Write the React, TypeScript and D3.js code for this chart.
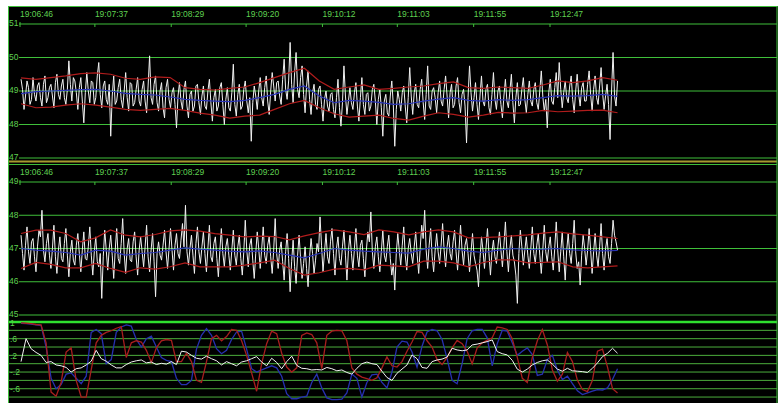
import React from "react";
import * as d3 from "d3";

// ---------- data ----------
const TIME_LABELS = ["19:06:46", "19:07:37", "19:08:29", "19:09:20", "19:10:12", "19:11:03", "19:11:55", "19:12:47"];
const T_FIRST = 0.7; // seconds after 19:06:46 of first sample
const T_LAST = 407; // seconds after 19:06:46 of last sample

const P1_TICKS = [51, 50, 49, 48, 47];
const P2_TICKS = [49, 48, 47, 46, 45];
const P3_GRID = [0.8, 0.6, 0.4, 0.2, 0, -0.2, -0.4, -0.6, -0.8];
const P3_LABELS = [1, 0.6, 0.2, -0.2, -0.6];

const P1_WHITE = [
  49.35, 49.05, 48.45, 48.85, 49.3, 49.1, 48.6, 48.75, 49.4, 48.9, 48.7, 49.15, 49.25, 48.8, 48.55, 49.2, 49.45, 48.65, 48.8, 49.1,
  49.2, 48.85, 48.5, 49.25, 49.5, 48.9, 48.75, 49.15, 49.35, 48.8, 48.6, 49.05, 49.9, 49.2, 48.7, 49.4, 49.3, 48.95, 48.45, 49.1,
  49.4, 48.7, 48.05, 48.95, 49.55, 49.0, 48.65, 49.3, 49.25, 48.6, 48.8, 49.45, 49.85, 48.9, 48.5, 49.15, 49.3, 48.75, 48.6, 49.2,
  47.65, 48.85, 49.45, 48.6, 48.7, 49.1, 49.35, 48.75, 48.5, 49.0, 49.55, 48.8, 48.4, 49.25, 49.2, 48.55, 48.65, 49.05, 49.4, 48.7,
  48.55, 49.05, 49.3, 48.7, 48.35, 49.15, 50.05, 48.8, 48.6, 49.2, 49.45, 48.65, 48.4, 49.0, 49.25, 48.5, 48.2, 49.1, 49.35, 48.75,
  48.5, 48.95, 49.1, 48.6, 47.9, 48.85, 49.25, 48.7, 48.45, 49.05, 49.3, 48.55, 48.2, 48.9, 49.0, 48.4, 48.55, 49.15, 49.2, 48.65,
  48.3, 48.85, 49.15, 48.55, 48.45, 49.0, 49.35, 48.65, 48.1, 48.8, 49.05, 48.4, 48.55, 49.1, 49.25, 48.6, 48.0, 48.75, 49.1, 48.5,
  48.4, 48.95, 49.8, 48.6, 48.25, 48.9, 49.2, 48.45, 48.55, 49.05, 49.3, 48.7, 48.35, 48.8, 47.5, 48.65, 49.15, 48.85, 48.45, 49.0,
  49.4, 48.8, 48.55, 49.1, 49.45, 48.7, 48.3, 49.0, 49.55, 49.15, 48.7, 49.25, 49.3, 48.85, 48.6, 49.35, 49.95, 49.05, 48.75, 49.3,
  50.45, 49.2, 48.65, 49.55, 50.15, 49.05, 48.8, 49.4, 49.75, 48.9, 48.35, 49.15, 49.6, 48.75, 48.3, 48.95, 49.2, 48.6, 48.45, 49.05,
  49.15, 48.6, 48.1, 48.75, 49.0, 48.55, 48.4, 48.9, 48.95, 48.45, 48.2, 48.8, 49.35, 48.5, 47.95, 48.65, 49.75, 48.85, 48.3, 48.7,
  49.1, 48.65, 48.45, 48.95, 49.25, 48.55, 48.1, 48.8, 49.4, 48.6, 48.3, 48.9, 48.95, 48.4, 48.55, 49.05, 49.2, 48.7, 48.0, 48.75,
  49.05, 48.5, 47.65, 48.7, 48.9, 48.35, 48.25, 48.85, 49.3, 48.6, 47.35, 48.45, 49.0, 48.75, 48.4, 48.95, 49.15, 48.55, 48.05, 48.8,
  49.7, 48.85, 48.3, 48.95, 49.2, 48.6, 48.5, 49.05, 49.35, 48.65, 48.15, 48.9, 49.75, 48.55, 48.45, 49.0, 49.1, 48.8, 48.35, 48.95,
  49.3, 48.7, 48.55, 49.05, 49.45, 48.85, 48.2, 48.95, 49.2, 48.5, 48.6, 49.15, 49.4, 48.65, 48.35, 48.9, 49.05, 48.55, 47.45, 48.8,
  49.75, 48.95, 48.4, 48.8, 49.25, 48.6, 48.15, 48.85, 49.45, 48.7, 48.55, 49.05, 49.2, 48.5, 48.3, 48.9, 49.55, 48.75, 48.45, 49.0,
  49.15, 48.6, 48.2, 48.85, 49.35, 48.7, 48.5, 49.0, 49.5, 48.65, 48.05, 48.8, 49.25, 48.55, 48.6, 49.05, 49.4, 48.75, 48.35, 48.9,
  49.3, 48.7, 48.55, 49.05, 49.25, 48.65, 48.45, 49.0, 49.6, 48.85, 48.4, 48.75, 47.9, 48.95, 49.35, 48.7, 48.6, 49.1, 49.55, 48.8,
  49.85, 49.05, 48.5, 48.95, 49.3, 48.8, 48.65, 49.15, 49.45, 48.75, 48.35, 49.0, 49.5, 48.9, 48.55, 49.1, 49.25, 48.7, 48.7, 49.2,
  49.6, 48.9, 48.4, 49.05, 49.45, 48.8, 48.6, 49.15, 49.7, 48.95, 48.45, 48.85, 49.2, 48.6, 47.55, 49.0, 50.15, 48.85, 48.55, 49.3,
];
const P1_MEAN = [
  48.92, 48.98, 49.0, 49.02, 49.04, 49.05, 49.0, 48.93, 48.9, 48.88, 48.82, 48.75, 48.72, 48.7,
  48.68, 48.72, 48.8, 48.9, 49.05, 49.15, 48.85, 48.65, 48.72, 48.7, 48.66, 48.6, 48.62, 48.7,
  48.76, 48.8, 48.72, 48.7, 48.74, 48.72, 48.74, 48.8, 48.86, 48.85, 48.86, 48.9, 48.84,
];
const P1_UPPER = [
  49.39, 49.35, 49.4, 49.45, 49.52, 49.54, 49.5, 49.38, 49.35, 49.42, 49.4, 49.1, 49.05, 49.03,
  49.08, 49.12, 49.25, 49.4, 49.55, 49.68, 49.3, 49.05, 49.12, 49.18, 49.05, 49.08, 49.12, 49.15,
  49.22, 49.27, 49.1, 49.08, 49.12, 49.1, 49.08, 49.18, 49.3, 49.25, 49.3, 49.4, 49.32,
];
const P1_LOWER = [
  48.62, 48.5, 48.52, 48.58, 48.62, 48.58, 48.52, 48.45, 48.42, 48.45, 48.48, 48.42, 48.34, 48.28,
  48.19, 48.25, 48.28, 48.45, 48.62, 48.72, 48.5, 48.32, 48.22, 48.25, 48.28, 48.18, 48.13, 48.25,
  48.35, 48.3, 48.22, 48.28, 48.36, 48.34, 48.35, 48.42, 48.38, 48.4, 48.42, 48.43, 48.35,
];

const P2_WHITE = [
  47.4, 46.85, 46.35, 47.1, 47.65, 46.9, 46.55, 47.2, 47.3, 46.75, 46.3, 47.05, 47.55, 47.35, 48.15, 46.95, 46.6, 47.15, 47.45, 46.8,
  46.4, 47.0, 47.7, 46.75, 46.25, 46.95, 47.35, 46.7, 46.6, 47.15, 47.6, 46.8, 46.15, 46.9, 47.25, 46.65, 46.5, 47.1, 47.45, 46.85,
  46.3, 46.95, 47.5, 46.7, 46.65, 47.05, 47.65, 46.8, 46.2, 46.9, 47.35, 46.6, 46.45, 46.85, 45.5, 46.75, 47.55, 46.95, 46.35, 47.0,
  47.4, 46.8, 46.1, 46.95, 47.6, 46.7, 46.55, 47.15, 47.9, 46.85, 46.25, 47.0, 47.3, 46.65, 46.6, 47.2, 47.5, 46.75, 46.2, 46.95,
  47.35, 46.9, 46.45, 47.05, 47.7, 46.75, 46.3, 46.95, 47.45, 46.6, 45.55, 46.85, 47.2, 46.8, 46.65, 47.1, 47.55, 46.9, 46.4, 47.0,
  47.6, 46.95, 46.35, 47.1, 47.45, 46.85, 46.7, 47.25, 47.75, 47.05, 48.3, 46.9, 46.5, 47.0, 47.4, 46.8, 46.25, 47.15, 47.65, 46.9,
  46.55, 47.05, 47.5, 46.85, 46.3, 47.0, 47.7, 46.75, 46.6, 47.15, 47.35, 46.7, 46.15, 46.95, 47.6, 46.85, 46.45, 47.05, 47.3, 46.8,
  46.35, 46.95, 47.55, 46.8, 46.5, 47.05, 47.4, 46.7, 46.2, 46.9, 47.85, 46.95, 46.45, 47.1, 47.3, 46.65, 46.1, 46.85, 47.5, 47.0,
  46.4, 47.0, 47.65, 46.8, 46.55, 47.1, 47.35, 46.75, 46.25, 46.95, 47.9, 46.85, 46.4, 46.95, 47.2, 46.6, 46.05, 46.9, 47.45, 46.7,
  45.7, 46.6, 47.25, 46.45, 45.95, 46.8, 47.4, 46.7, 46.1, 46.55, 47.05, 46.4, 45.85, 46.75, 47.3, 46.85, 46.25, 46.65, 47.15, 46.9,
  47.95, 47.1, 46.3, 46.9, 47.45, 46.75, 46.55, 47.2, 47.6, 46.85, 46.2, 47.0, 47.35, 46.7, 46.5, 47.05, 47.55, 46.8, 46.05, 46.95,
  47.4, 46.85, 46.35, 47.0, 47.6, 46.8, 46.45, 47.1, 47.25, 46.7, 46.15, 46.95, 47.5, 47.2, 48.1, 46.9, 46.4, 47.05, 47.35, 46.75,
  46.3, 46.9, 47.55, 46.8, 46.6, 47.05, 47.4, 46.7, 46.2, 46.55, 45.75, 46.85, 47.45, 46.95, 46.5, 47.1, 47.65, 46.8, 46.35, 47.0,
  47.3, 46.85, 46.55, 47.05, 47.5, 46.8, 46.25, 47.0, 47.7, 47.3, 48.15, 46.95, 46.4, 47.1, 47.6, 46.75, 46.3, 46.95, 47.45, 46.9,
  46.55, 47.1, 47.75, 46.95, 46.45, 47.05, 47.4, 46.85, 46.65, 47.2, 47.55, 46.9, 46.35, 47.0, 47.7, 46.95, 46.5, 47.1, 47.3, 46.85,
  46.3, 46.9, 47.45, 46.8, 46.55, 46.35, 45.85, 46.7, 47.35, 46.95, 46.4, 47.0, 47.6, 46.85, 46.2, 46.9, 47.25, 46.75, 46.55, 47.05,
  47.5, 46.95, 46.45, 47.1, 47.8, 46.9, 46.3, 47.0, 47.4, 46.8, 46.6, 46.2, 45.35, 46.85, 47.55, 47.05, 46.5, 46.95, 47.35, 46.8,
  46.4, 47.0, 47.65, 46.85, 46.55, 47.1, 47.45, 46.8, 46.25, 46.95, 47.7, 46.9, 46.6, 47.05, 47.35, 46.75, 46.35, 47.0, 47.8, 46.95,
  46.3, 46.9, 47.5, 46.75, 46.05, 46.95, 47.45, 46.85, 46.55, 47.15, 47.85, 46.9, 46.4, 46.6, 45.9, 46.8, 47.4, 47.0, 46.5, 46.95,
  47.6, 46.95, 46.25, 46.9, 47.45, 46.8, 46.45, 47.05, 47.75, 46.85, 46.35, 47.0, 47.3, 46.75, 46.55, 47.15, 47.85, 47.4, 47.2, 46.95,
];
const P2_MEAN = [
  47.0, 46.95, 46.92, 46.88, 46.8, 46.95, 46.92, 46.8, 46.85, 46.88, 46.95, 47.02, 46.98, 46.95,
  46.92, 46.9, 46.93, 46.88, 46.8, 46.72, 46.85, 47.0, 46.95, 46.92, 46.9, 46.88, 46.86, 46.98,
  47.05, 47.0, 46.92, 46.88, 46.95, 47.0, 46.97, 46.98, 47.0, 46.96, 46.94, 46.93, 46.94,
];
const P2_UPPER = [
  47.45, 47.55, 47.55, 47.45, 47.2, 47.32, 47.56, 47.4, 47.35, 47.42, 47.53, 47.56, 47.52, 47.45,
  47.4, 47.35, 47.37, 47.36, 47.26, 47.38, 47.48, 47.56, 47.5, 47.42, 47.56, 47.5, 47.41, 47.5,
  47.56, 47.5, 47.32, 47.33, 47.35, 47.38, 47.41, 47.46, 47.5, 47.44, 47.4, 47.35, 47.3,
];
const P2_LOWER = [
  46.4, 46.58, 46.52, 46.42, 46.42, 46.55, 46.4, 46.28, 46.42, 46.38, 46.45, 46.57, 46.45, 46.45,
  46.45, 46.5, 46.57, 46.65, 46.4, 46.2, 46.27, 46.38, 46.4, 46.36, 46.5, 46.48, 46.45, 46.62,
  46.62, 46.57, 46.45, 46.58, 46.66, 46.66, 46.57, 46.58, 46.6, 46.45, 46.42, 46.45, 46.48,
];

const P3_RED = [
  0.98, 0.97, 0.96, 0.94, 0.93, 0.5, -0.68, -0.78, -0.45, 0.28,
  0.38, -0.4, -0.8, -0.8, -0.15, 0.5, 0.68, 0.75, 0.79, 0.85,
  0.89, 0.15, 0.5, 0.55, 0.52, 0.32, 0.03, 0.38, 0.55, 0.58,
  0.56, 0.05, 0.05, 0.25, 0.05, -0.4, -0.45, 0.05, 0.6, 0.68,
  0.55, 0.65, 0.82, 0.8, 0.55, 0.2, -0.22, -0.66, 0.0, 0.48,
  0.78, 0.72, 0.25, -0.08, -0.2, -0.1, 0.68, 0.74, 0.7, 0.5,
  -0.12, 0.68, 0.78, 0.8, 0.79, 0.55, -0.1, -0.25, -0.32, -0.36,
  -0.4, -0.34, -0.1, 0.16, -0.05, -0.08, 0.05, 0.3, 0.52, 0.77,
  0.75, 0.55, 0.4, 0.1, -0.02, 0.15, 0.38, 0.56, 0.48, 0.3,
  0.0, 0.38, 0.5, 0.56, 0.62, 0.88, 0.86, 0.82, 0.6, 0.15,
  -0.35, -0.45, 0.15, 0.55, 0.82, 0.45, -0.15, -0.42, -0.25, 0.27,
  0.05, -0.4, -0.62, -0.67, -0.4, 0.3, 0.35, -0.08, -0.6, -0.7,
];
const P3_BLUE = [
  0.97, 0.96, 0.95, 0.93, 0.92, 0.4, -0.35, -0.6, -0.5, -0.25,
  -0.22, -0.35, -0.48, -0.3, 0.75, 0.82, 0.72, 0.0, 0.1, 0.75,
  0.88, 0.93, 0.9, 0.58, 0.4, 0.6, 0.66, 0.4, 0.15, 0.08,
  0.05, -0.35, -0.5, -0.5, -0.4, 0.35, 0.68, 0.84, 0.68, 0.36,
  0.24, 0.32, 0.58, 0.76, 0.78, 0.35, -0.12, -0.2, -0.15, -0.1,
  -0.05, -0.1, -0.3, -0.72, -0.84, -0.84, -0.8, -0.78, -0.45, -0.25,
  -0.58, -0.82, -0.86, -0.86, -0.85, -0.7, -0.25, -0.35, -0.8, -0.45,
  -0.27, -0.25, -0.45, -0.58, -0.2, 0.4, 0.54, 0.52, 0.28, -0.08,
  0.42, 0.76, 0.82, 0.79, 0.58, 0.12, -0.4, -0.48, 0.0, 0.6,
  0.79, 0.82, 0.82, 0.62, -0.05, 0.48, 0.8, 0.78, 0.5, 0.2,
  0.3, 0.38, 0.22, -0.28, -0.25, 0.1, 0.2, -0.15, -0.38, -0.3,
  -0.48, -0.65, -0.74, -0.7, -0.66, -0.62, -0.63, -0.58, -0.38, -0.12,
];
const P3_WHITE = [
  0.05, 0.6, 0.36, 0.27, 0.2, 0.03, 0.05, -0.03, -0.05, -0.09,
  -0.2, -0.12, -0.1, -0.03, 0.06, 0.32, 0.12, 0.06, -0.03, -0.1,
  -0.1, -0.02, 0.04, 0.07, 0.09, 0.02, 0.04, -0.02, 0.01, -0.01,
  0.05, -0.02, 0.3, 0.28, 0.2, 0.13, 0.11, 0.18, 0.12, 0.07,
  -0.03, 0.05, 0.0, -0.05, 0.04, 0.07, 0.12, 0.17, 0.04, -0.05,
  0.13, 0.03, -0.12, 0.05, 0.18, -0.04, -0.11, -0.12, -0.15, -0.14,
  -0.15, -0.09, -0.12, -0.17, -0.15, -0.21, -0.25, -0.11, 0.0, 0.04,
  0.0, -0.02, -0.18, -0.33, -0.4, -0.23, -0.13, -0.03, 0.21, 0.12,
  -0.09, -0.11, 0.05, 0.09, 0.11, 0.16, 0.37, 0.33, 0.31, 0.33,
  0.45, 0.47, 0.5, 0.53, 0.57, 0.29, 0.24, 0.21, 0.08, -0.13,
  -0.2, -0.13, -0.03, 0.03, 0.07, 0.09, -0.01, -0.13, -0.18, -0.11,
  -0.17, -0.18, -0.19, -0.21, -0.11, 0.02, 0.17, 0.25, 0.37, 0.25,
];

// ---------- helpers ----------
const toSec = (s: string) => {
  const [h, m, sec] = s.split(":").map(Number);
  return h * 3600 + m * 60 + sec;
};
const T_ORIGIN = toSec(TIME_LABELS[0]);
const TICK_SECONDS = TIME_LABELS.map((l) => toSec(l) - T_ORIGIN);

const GREEN = "#3fbf3a";
const TEXT = "#5fd050";
const FONT = "'Liberation Sans', Arial, sans-serif";

const fmt3 = (v: number) =>
  v === 1 ? "1" : (v < 0 ? "-" : "") + "." + Math.round(Math.abs(v) * 10);

export default function App() {
  const x = d3.scaleLinear().domain([0, 361]).range([20, 550]);
  const y1 = d3.scaleLinear().domain([47, 51]).range([158, 24]);
  const y2 = d3.scaleLinear().domain([45, 49]).range([315, 182]);
  const y3 = d3.scaleLinear().domain([-1, 1]).range([405.4, 322]);

  const path = (arr: number[], ys: d3.ScaleLinear<number, number>) =>
    d3
      .line<number>()
      .x((_, i) => x(T_FIRST + (i * (T_LAST - T_FIRST)) / (arr.length - 1)))
      .y((v) => ys(v))(arr) || "";

  const xL = 19;
  const xR = 777;

  const timeAxis = (yAxis: number, yText: number, key: string) => (
    <g key={key}>
      <line x1={xL} x2={xR} y1={yAxis} y2={yAxis} stroke={GREEN} strokeWidth={1} />
      {TICK_SECONDS.map((s, i) => (
        <g key={i}>
          <line x1={x(s)} x2={x(s)} y1={yAxis - (i === 0 ? 2 : 0)} y2={yAxis + 3} stroke={GREEN} strokeWidth={1} />
          <text x={x(s)} y={yText} fill={TEXT} fontSize={8.5} fontFamily={FONT} dominantBaseline="middle">
            {TIME_LABELS[i]}
          </text>
        </g>
      ))}
    </g>
  );

  const yGrid = (ticks: number[], ys: d3.ScaleLinear<number, number>, key: string, skipFirst: boolean) => (
    <g key={key}>
      {ticks.map((t, i) => (
        <g key={t}>
          {!(skipFirst && i === 0) && (
            <line x1={xL} x2={xR} y1={ys(t)} y2={ys(t)} stroke={GREEN} strokeWidth={1} />
          )}
          <text x={9} y={ys(t)} fill={TEXT} fontSize={8.5} fontFamily={FONT} dominantBaseline="middle">
            {t}
          </text>
        </g>
      ))}
    </g>
  );

  return (
    <svg
      width={782}
      height={403}
      style={{ position: "absolute", left: 0, top: 0, display: "block" }}
    >
      <rect x={0} y={0} width={782} height={403} fill="#ffffff" />
      <rect x={8} y={6} width={770} height={397} fill="#000000" />

      {/* panel 1 */}
      {timeAxis(y1(51), 14.5, "ax1")}
      {yGrid(P1_TICKS, y1, "g1", true)}
      <path d={path(P1_WHITE, y1)} fill="none" stroke="#f2f2f2" strokeWidth={1} />
      <path d={path(P1_UPPER, y1)} fill="none" stroke="#b01c1c" strokeWidth={1.2} />
      <path d={path(P1_LOWER, y1)} fill="none" stroke="#b01c1c" strokeWidth={1.2} />
      <path d={path(P1_MEAN, y1)} fill="none" stroke="#2a34b8" strokeWidth={1.2} />

      {/* separator */}
      <line x1={8} x2={xR} y1={161.5} y2={161.5} stroke="#a59a2e" strokeWidth={2} />
      <line x1={8} x2={xR} y1={164.5} y2={164.5} stroke={GREEN} strokeWidth={1} />

      {/* panel 2 */}
      {timeAxis(y2(49), 172.5, "ax2")}
      {yGrid(P2_TICKS, y2, "g2", true)}
      <path d={path(P2_WHITE, y2)} fill="none" stroke="#f2f2f2" strokeWidth={1} />
      <path d={path(P2_UPPER, y2)} fill="none" stroke="#b01c1c" strokeWidth={1.2} />
      <path d={path(P2_LOWER, y2)} fill="none" stroke="#b01c1c" strokeWidth={1.2} />
      <path d={path(P2_MEAN, y2)} fill="none" stroke="#2a34b8" strokeWidth={1.2} />

      {/* panel 3 */}
      <line x1={8} x2={xR} y1={y3(1)} y2={y3(1)} stroke="#2fe02f" strokeWidth={2.5} />
      {P3_GRID.map((g) => (
        <line key={g} x1={8} x2={xR} y1={y3(g)} y2={y3(g)} stroke="#4cae3c" strokeWidth={1} />
      ))}
      {P3_LABELS.map((l) => (
        <text key={l} x={10} y={y3(l) + (l === 1 ? 2 : 1)} fill={TEXT} fontSize={8.5} fontFamily={FONT} dominantBaseline="middle">
          {fmt3(l)}
        </text>
      ))}
      <path d={path(P3_BLUE, y3)} fill="none" stroke="#2630b0" strokeWidth={1.3} />
      <path d={path(P3_RED, y3)} fill="none" stroke="#a81e1e" strokeWidth={1.3} />
      <path d={path(P3_WHITE, y3)} fill="none" stroke="#f2f2f2" strokeWidth={1} />

      {/* frame */}
      <line x1={8} x2={xR + 0.5} y1={6.5} y2={6.5} stroke={GREEN} strokeWidth={1} />
      <line x1={8.5} x2={8.5} y1={6} y2={403} stroke={GREEN} strokeWidth={1} />
      <line x1={xR} x2={xR} y1={6} y2={403} stroke={GREEN} strokeWidth={1} />
    </svg>
  );
}
